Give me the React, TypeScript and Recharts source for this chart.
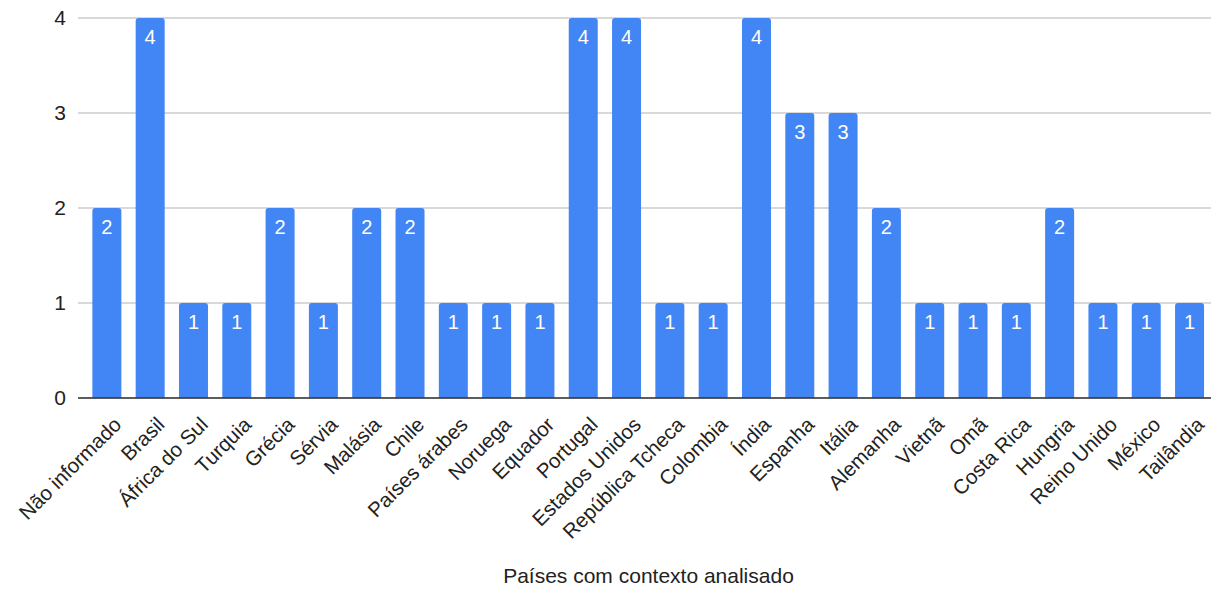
import { BarChart, Bar, XAxis, YAxis, CartesianGrid, LabelList } from 'recharts';

const countries = [
  'Não informado', 'Brasil', 'África do Sul', 'Turquia', 'Grécia', 'Sérvia', 'Malásia', 'Chile',
  'Países árabes', 'Noruega', 'Equador', 'Portugal', 'Estados Unidos', 'República Tcheca', 'Colombia',
  'Índia', 'Espanha', 'Itália', 'Alemanha', 'Vietnã', 'Omã', 'Costa Rica', 'Hungria', 'Reino Unido',
  'México', 'Tailândia',
];
const counts = [2, 4, 1, 1, 2, 1, 2, 2, 1, 1, 1, 4, 4, 1, 1, 4, 3, 3, 2, 1, 1, 1, 2, 1, 1, 1];
const yTicks = [0, 1, 2, 3, 4];

const data = countries.map((name, i) => ({ name, value: counts[i] }));

const FONT = '"Liberation Sans", Arial, sans-serif';

function RotatedTick({ x, y, payload }: any) {
    return (
        <g transform={`translate(${x + 5},${y + 9})`}>
            <text
                transform="rotate(-45)"
                textAnchor="end"
                dy="0.75em"
                fontSize={20.5}
                fontFamily={FONT}
                fill="#222"
            >
                {payload.value}
            </text>
        </g>
    );
}

export default function App() {
    return (
        <div style={{ position: 'absolute', left: 0, top: 0, width: 1212, height: 589, background: '#fff' }}>
            <BarChart
                width={1212}
                height={589}
                data={data}
                margin={{ top: 18, right: 1, bottom: 41, left: 0 }}
                barCategoryGap="17%"
            >
                <CartesianGrid vertical={false} stroke="#cccccc" strokeWidth={1.5} />
                <XAxis
                    dataKey="name"
                    interval={0}
                    height={150}
                    padding={{ left: 7, right: 0 }}
                    tickLine={false}
                    axisLine={{ stroke: '#333', strokeWidth: 1.5 }}
                    tick={<RotatedTick />}
                    label={{
                        value: 'Países com contexto analisado',
                        position: 'insideBottom',
                        offset: -35,
                        dx: 4,
                        fontSize: 21,
                        fontFamily: FONT,
                        fill: '#222',
                    }}
                />
                <YAxis
                    width={78}
                    domain={[0, 4]}
                    ticks={yTicks}
                    tickLine={false}
                    axisLine={false}
                    tickSize={0}
                    tickMargin={12}
                    tick={{ fontSize: 21, fontFamily: FONT, fill: '#222' }}
                />
                <Bar dataKey="value" fill="#4285f4" radius={[3, 3, 0, 0]} isAnimationActive={false}>
                    <LabelList
                        dataKey="value"
                        position="insideTop"
                        offset={12}
                        fill="#fff"
                        fontSize={20}
                        fontFamily={FONT}
                    />
                </Bar>
            </BarChart>
        </div>
    );
}
